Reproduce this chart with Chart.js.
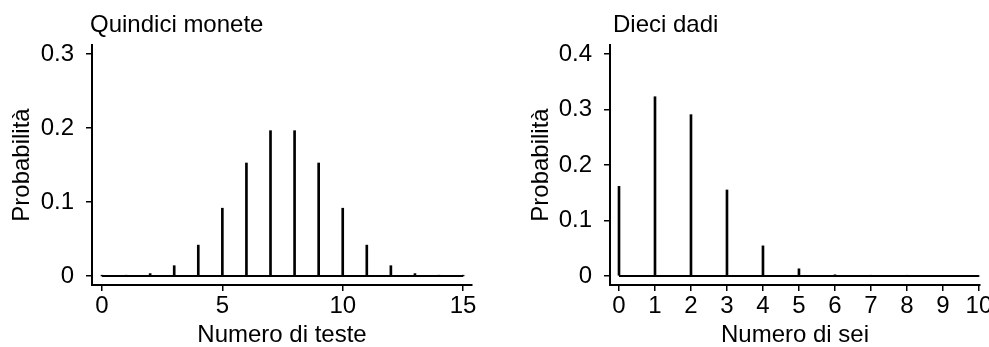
<!DOCTYPE html>
<html>
<head>
<meta charset="utf-8">
<script src="https://cdn.jsdelivr.net/npm/chart.js@4/dist/chart.umd.min.js"></script>
<style>
  html, body { margin: 0; padding: 0; background: #fff; overflow: hidden; }
  #wrap { position: relative; width: 989px; height: 347px; }
  canvas { position: absolute; top: 0; }
</style>
</head>
<body>
<div id="wrap">
  <canvas id="coinChart" width="490" height="347" style="left:0px"></canvas>
  <canvas id="diceChart" width="475" height="347" style="left:519px"></canvas>
</div>
<script>
// ---data---
var coinHeads = [0, 1, 2, 3, 4, 5, 6, 7, 8, 9, 10, 11, 12, 13, 14, 15];
var coinProb = [0.00003, 0.0005, 0.0032, 0.0139, 0.0417, 0.0916, 0.1527, 0.1964,
                0.1964, 0.1527, 0.0916, 0.0417, 0.0139, 0.0032, 0.0005, 0.00003];
var coinXTicks = [0, 5, 10, 15];
var coinYTicks = [0, 0.1, 0.2, 0.3];

var diceSixes = [0, 1, 2, 3, 4, 5, 6, 7, 8, 9, 10];
var diceProb = [0.1615, 0.3230, 0.2907, 0.1550, 0.0543, 0.0130, 0.0022, 0.0003, 0.00002, 0, 0];
var diceXTicks = [0, 1, 2, 3, 4, 5, 6, 7, 8, 9, 10];
var diceYTicks = [0, 0.1, 0.2, 0.3, 0.4];

var FONT = "'Liberation Sans', Arial, Helvetica, sans-serif";
var FSIZE = 24;

// ---panel title drawn at the plot's left edge---
var panelTitle = {
  id: "panelTitle",
  afterDraw: function (chart, args, opts) {
    var ctx = chart.ctx;
    ctx.save();
    ctx.font = FSIZE + "px " + FONT;
    ctx.fillStyle = "#000";
    ctx.textBaseline = "alphabetic";
    ctx.textAlign = "left";
    ctx.fillText(opts.text, chart.chartArea.left + opts.dx, opts.y);
    ctx.restore();
  }
};

function spikeChart(id, xs, ys, xTicks, yTicks, xRange, yRange, xTitle, title, titleDx, axisWidth, padRight) {
  var ctx = document.getElementById(id).getContext("2d");
  var points = xs.map(function (x, i) { return { x: x, y: ys[i] }; });
  return new Chart(ctx, {
    data: {
      datasets: [
        {
          type: "bar",
          data: points,
          backgroundColor: "#000",
          barThickness: 2,
          borderWidth: 0
        },
        {
          type: "line",
          data: [{ x: xs[0], y: 0 }, { x: xs[xs.length - 1], y: 0 }],
          borderColor: "#000",
          borderWidth: 2,
          pointRadius: 0
        }
      ]
    },
    options: {
      responsive: false,
      animation: false,
      devicePixelRatio: 1,
      layout: { padding: { left: 0, top: 45, right: padRight, bottom: 0 } },
      plugins: {
        legend: { display: false },
        tooltip: { enabled: false },
        panelTitle: { text: title, dx: titleDx, y: 32 }
      },
      scales: {
        x: {
          type: "linear",
          offset: false,
          min: xRange[0],
          max: xRange[1],
          afterBuildTicks: function (scale) {
            scale.ticks = xTicks.map(function (v) { return { value: v }; });
          },
          afterFit: function (scale) { scale.height = 62; },
          grid: { offset: false, drawOnChartArea: false, drawTicks: true, tickLength: 6, color: "#000", lineWidth: 1.5 },
          border: { display: true, color: "#000", width: 2 },
          ticks: {
            autoSkip: false,
            maxRotation: 0,
            padding: 1,
            color: "#000",
            font: { family: FONT, size: FSIZE }
          },
          title: {
            display: true,
            text: xTitle,
            color: "#000",
            font: { family: FONT, size: FSIZE, lineHeight: 1 },
            padding: { top: 0, bottom: 0 }
          }
        },
        y: {
          type: "linear",
          min: yRange[0],
          max: yRange[1],
          afterBuildTicks: function (scale) {
            scale.ticks = yTicks.map(function (v) { return { value: v }; });
          },
          afterFit: function (scale) { scale.width = axisWidth; },
          grid: { offset: false, drawOnChartArea: false, drawTicks: true, tickLength: 6, color: "#000", lineWidth: 1.5 },
          border: { display: true, color: "#000", width: 2 },
          ticks: {
            padding: 12,
            color: "#000",
            font: { family: FONT, size: FSIZE },
            callback: function (v) { return v === 0 ? "0" : v.toFixed(1); }
          },
          title: {
            display: true,
            text: "Probabilità",
            color: "#000",
            font: { family: FONT, size: FSIZE, lineHeight: 1 },
            padding: { top: 10, bottom: 0 }
          }
        }
      }
    },
    plugins: [panelTitle]
  });
}

spikeChart("coinChart", coinHeads, coinProb, coinXTicks, coinYTicks,
  [-0.415, 15.37], [-0.0122, 0.3122], "Numero di teste", "Quindici monete", -2, 92, 18);

spikeChart("diceChart", diceSixes, diceProb, diceXTicks, diceYTicks,
  [-0.25, 10.03], [-0.0162, 0.4162], "Numero di sei", "Dieci dadi", 3, 91, 14);
</script>
</body>
</html>
